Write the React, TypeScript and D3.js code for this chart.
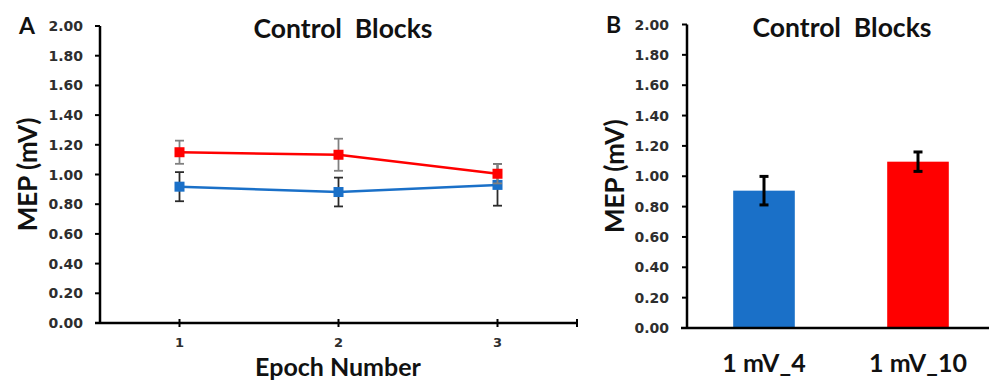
import React from "react";
import * as d3 from "d3";

const epochs = [1, 2, 3];
const redMean = [1.15, 1.133, 1.005];
const redErr = [0.078, 0.108, 0.065];
const blueMean = [0.918, 0.882, 0.93];
const blueErr = [0.098, 0.097, 0.14];

const barCategories = ["1 mV_4", "1 mV_10"];
const barMeans = [0.905, 1.096];
const barErrs = [0.094, 0.064];

const yTicks = [0, 0.2, 0.4, 0.6, 0.8, 1.0, 1.2, 1.4, 1.6, 1.8, 2.0];

const RED = "#ff0000";
const BLUE = "#1a70c8";
const FONT = "Lato, 'Open Sans', sans-serif";
const TICK_FONT = "'DejaVu Sans', 'Open Sans', sans-serif";
const TICK_COLOR = "#2e2e2e";

function PanelA() {
  const x = d3.scaleLinear().domain([0.5, 3.5]).range([100, 577]);
  const y = d3.scaleLinear().domain([0, 2]).range([323, 26]);
  const line = d3
    .line<number>()
    .x((_, i) => x(epochs[i]))
    .y((d) => y(d));
  const series = [
    { mean: blueMean, err: blueErr, color: BLUE, errColor: "#2b2b2b" },
    { mean: redMean, err: redErr, color: RED, errColor: "#808080" },
  ];
  return (
    <g>
      <text x={19} y={34} fontFamily={FONT} fontWeight={700} fontSize={23} fill="#111">A</text>
      <text x={343} y={38} textAnchor="middle" fontFamily={FONT} fontWeight={700} fontSize={26.5} fill="#111" style={{ whiteSpace: "pre" }}>
        Control  Blocks
      </text>
      {yTicks.map((t) => (
        <g key={t}>
          <line x1={95} x2={100} y1={y(t)} y2={y(t)} stroke="#000" strokeWidth={2} />
          <text x={83} y={y(t)} dy="0.36em" textAnchor="end" fontFamily={TICK_FONT} fontWeight={700} fontSize={14} fill={TICK_COLOR}>
            {t.toFixed(2)}
          </text>
        </g>
      ))}
      <line x1={100} x2={100} y1={y(2)} y2={y(0)} stroke="#000" strokeWidth={2.5} />
      <line x1={95} x2={577} y1={y(0)} y2={y(0)} stroke="#000" strokeWidth={2.5} />
      {[...epochs, 3.5].map((e) => (
        <line key={e} x1={x(e)} x2={x(e)} y1={y(0) - 4} y2={y(0) + 4} stroke="#000" strokeWidth={2} />
      ))}
      {epochs.map((e) => (
        <text key={e} x={x(e)} y={347} textAnchor="middle" fontFamily={TICK_FONT} fontWeight={700} fontSize={13} fill={TICK_COLOR}>
          {e}
        </text>
      ))}
      <text x={338} y={376} textAnchor="middle" fontFamily={FONT} fontWeight={700} fontSize={25} fill="#111">
        Epoch Number
      </text>
      <text transform={`translate(37,${(y(0) + y(2)) / 2}) rotate(-90)`} textAnchor="middle" fontFamily={FONT} fontWeight={700} fontSize={26} fill="#111">
        MEP (mV)
      </text>
      {series.map((s, si) => (
        <g key={si}>
          {s.mean.map((m, i) => (
            <g key={i} stroke={s.errColor} strokeWidth={1.8}>
              <line x1={x(epochs[i])} x2={x(epochs[i])} y1={y(m + s.err[i])} y2={y(m - s.err[i])} />
              <line x1={x(epochs[i]) - 4.5} x2={x(epochs[i]) + 4.5} y1={y(m + s.err[i])} y2={y(m + s.err[i])} />
              <line x1={x(epochs[i]) - 4.5} x2={x(epochs[i]) + 4.5} y1={y(m - s.err[i])} y2={y(m - s.err[i])} />
            </g>
          ))}
          <path d={line(s.mean) || ""} fill="none" stroke={s.color} strokeWidth={2.5} />
          {s.mean.map((m, i) => (
            <rect key={i} x={x(epochs[i]) - 5} y={y(m) - 5} width={10} height={10} fill={s.color} />
          ))}
        </g>
      ))}
    </g>
  );
}

function PanelB() {
  const x = d3.scaleBand<string>().domain(barCategories).range([687, 995]).paddingInner(0.6).paddingOuter(0.3);
  const y = d3.scaleLinear().domain([0, 2]).range([328, 24.5]);
  const colors = [BLUE, RED];
  return (
    <g>
      <text x={606} y={33} fontFamily={FONT} fontWeight={700} fontSize={23} fill="#111">B</text>
      <text x={842} y={37} textAnchor="middle" fontFamily={FONT} fontWeight={700} fontSize={26.5} fill="#111" style={{ whiteSpace: "pre" }}>
        Control  Blocks
      </text>
      {yTicks.map((t) => (
        <g key={t}>
          <line x1={682} x2={687} y1={y(t)} y2={y(t)} stroke="#000" strokeWidth={2} />
          <text x={669} y={y(t)} dy="0.36em" textAnchor="end" fontFamily={TICK_FONT} fontWeight={700} fontSize={14} fill={TICK_COLOR}>
            {t.toFixed(2)}
          </text>
        </g>
      ))}
      {barCategories.map((c, i) => (
        <rect key={c} x={x(c)} y={y(barMeans[i])} width={x.bandwidth()} height={y(0) - y(barMeans[i])} fill={colors[i]} />
      ))}
      <line x1={687} x2={687} y1={y(2)} y2={y(0)} stroke="#000" strokeWidth={2.5} />
      <line x1={681} x2={989} y1={y(0)} y2={y(0)} stroke="#000" strokeWidth={2.5} />
      {barCategories.map((c, i) => {
        const cx = (x(c) || 0) + x.bandwidth() / 2;
        const hi = y(barMeans[i] + barErrs[i]);
        const lo = y(barMeans[i] - barErrs[i]);
        return (
          <g key={c} stroke="#000" strokeWidth={3}>
            <line x1={cx} x2={cx} y1={hi} y2={lo} />
            <line x1={cx - 4.5} x2={cx + 4.5} y1={hi} y2={hi} />
            <line x1={cx - 4.5} x2={cx + 4.5} y1={lo} y2={lo} />
          </g>
        );
      })}
      {barCategories.map((c) => (
        <text key={c} x={(x(c) || 0) + x.bandwidth() / 2} y={372} textAnchor="middle" fontFamily={FONT} fontWeight={700} fontSize={25} fill="#111">
          {c}
        </text>
      ))}
      <text transform={`translate(624,${(y(0) + y(2)) / 2}) rotate(-90)`} textAnchor="middle" fontFamily={FONT} fontWeight={700} fontSize={26} fill="#111">
        MEP (mV)
      </text>
    </g>
  );
}

export default function App() {
  return (
    <svg width={989} height={380} style={{ position: "absolute", left: 0, top: 0, background: "#fff" }}>
      <rect width={989} height={380} fill="#fff" />
      <PanelA />
      <PanelB />
    </svg>
  );
}
